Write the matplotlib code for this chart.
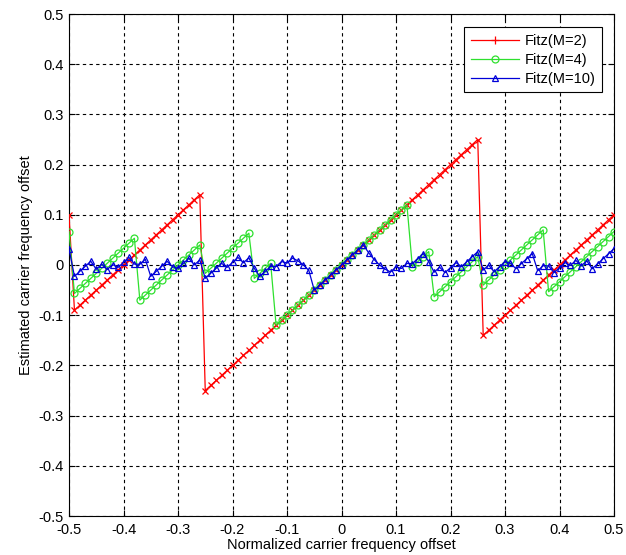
import matplotlib
matplotlib.use("Agg")
import matplotlib.pyplot as plt
from matplotlib.lines import Line2D

plt.rcParams['font.family'] = ['Liberation Sans', 'DejaVu Sans']

# Normalized carrier frequency offset (x grid)
x = [-0.50, -0.49, -0.48, -0.47, -0.46, -0.45, -0.44, -0.43, -0.42, -0.41,
     -0.40, -0.39, -0.38, -0.37, -0.36, -0.35, -0.34, -0.33, -0.32, -0.31,
     -0.30, -0.29, -0.28, -0.27, -0.26, -0.25, -0.24, -0.23, -0.22, -0.21,
     -0.20, -0.19, -0.18, -0.17, -0.16, -0.15, -0.14, -0.13, -0.12, -0.11,
     -0.10, -0.09, -0.08, -0.07, -0.06, -0.05, -0.04, -0.03, -0.02, -0.01,
     0.00, 0.01, 0.02, 0.03, 0.04, 0.05, 0.06, 0.07, 0.08, 0.09,
     0.10, 0.11, 0.12, 0.13, 0.14, 0.15, 0.16, 0.17, 0.18, 0.19,
     0.20, 0.21, 0.22, 0.23, 0.24, 0.25, 0.26, 0.27, 0.28, 0.29,
     0.30, 0.31, 0.32, 0.33, 0.34, 0.35, 0.36, 0.37, 0.38, 0.39,
     0.40, 0.41, 0.42, 0.43, 0.44, 0.45, 0.46, 0.47, 0.48, 0.49, 0.50]

# Fitz (M=2)
fitz_m2 = [0.10, -0.09, -0.08, -0.07, -0.06, -0.05, -0.04, -0.03, -0.02, -0.01,
           0.00, 0.01, 0.02, 0.03, 0.04, 0.05, 0.06, 0.07, 0.08, 0.09,
           0.10, 0.11, 0.12, 0.13, 0.14, -0.25, -0.24, -0.23, -0.22, -0.21,
           -0.20, -0.19, -0.18, -0.17, -0.16, -0.15, -0.14, -0.13, -0.12, -0.11,
           -0.10, -0.09, -0.08, -0.07, -0.06, -0.05, -0.04, -0.03, -0.02, -0.01,
           0.00, 0.01, 0.02, 0.03, 0.04, 0.05, 0.06, 0.07, 0.08, 0.09,
           0.10, 0.11, 0.12, 0.13, 0.14, 0.15, 0.16, 0.17, 0.18, 0.19,
           0.20, 0.21, 0.22, 0.23, 0.24, 0.25, -0.14, -0.13, -0.12, -0.11,
           -0.10, -0.09, -0.08, -0.07, -0.06, -0.05, -0.04, -0.03, -0.02, -0.01,
           0.00, 0.01, 0.02, 0.03, 0.04, 0.05, 0.06, 0.07, 0.08, 0.09, 0.10]

# Fitz (M=4)
fitz_m4 = [0.0667, -0.0567, -0.0467, -0.0367, -0.0267, -0.0167, -0.0067, 0.0033, 0.0133, 0.0233,
           0.0333, 0.0433, 0.0533, -0.0700, -0.0600, -0.0500, -0.0400, -0.0300, -0.0200, -0.0100,
           0.0000, 0.0100, 0.0200, 0.0300, 0.0400, -0.0167, -0.0067, 0.0033, 0.0133, 0.0233,
           0.0333, 0.0433, 0.0533, 0.0633, -0.0267, -0.0167, -0.0067, 0.0033, -0.1200, -0.1100,
           -0.1000, -0.0900, -0.0800, -0.0700, -0.0600, -0.0500, -0.0400, -0.0300, -0.0200, -0.0100,
           0.0000, 0.0100, 0.0200, 0.0300, 0.0400, 0.0500, 0.0600, 0.0700, 0.0800, 0.0900,
           0.1000, 0.1100, 0.1200, -0.0033, 0.0067, 0.0167, 0.0267, -0.0633, -0.0533, -0.0433,
           -0.0333, -0.0233, -0.0133, -0.0033, 0.0067, 0.0167, -0.0400, -0.0300, -0.0200, -0.0100,
           0.0000, 0.0100, 0.0200, 0.0300, 0.0400, 0.0500, 0.0600, 0.0700, -0.0533, -0.0433,
           -0.0333, -0.0233, -0.0133, -0.0033, 0.0067, 0.0167, 0.0267, 0.0367, 0.0467, 0.0567, 0.0667]

# Fitz (M=10)
fitz_m10 = [0.0325, -0.0225, -0.0125, -0.0025, 0.0075, -0.0084, 0.0016, -0.0092, 0.0008, -0.0048,
            0.0052, 0.0152, 0.0018, 0.0014, 0.0114, -0.0227, -0.0127, -0.0027, 0.0073, -0.0035,
            -0.0065, 0.0035, 0.0135, 0.0001, 0.0101, -0.0266, -0.0166, -0.0066, 0.0034, -0.0048,
            0.0052, 0.0152, 0.0044, 0.0144, -0.0068, -0.0227, -0.0127, -0.0027, -0.0031, 0.0069,
            0.0039, 0.0139, 0.0083, 0.0001, -0.0107, -0.0500, -0.0400, -0.0300, -0.0200, -0.0100,
            0.0000, 0.0100, 0.0200, 0.0300, 0.0400, 0.0240, 0.0107, -0.0001, -0.0083, -0.0139,
            -0.0039, -0.0069, 0.0031, 0.0027, 0.0127, 0.0227, 0.0068, -0.0144, -0.0044, -0.0152,
            -0.0052, 0.0048, -0.0034, 0.0066, 0.0166, 0.0266, -0.0101, -0.0001, -0.0135, -0.0035,
            0.0065, 0.0035, -0.0073, 0.0027, 0.0127, 0.0227, -0.0114, -0.0014, -0.0018, -0.0152,
            -0.0052, 0.0048, -0.0008, 0.0092, -0.0016, 0.0084, -0.0075, 0.0025, 0.0125, 0.0225, 0.0325]

series_labels = ['Fitz(M=2)', 'Fitz(M=4)', 'Fitz(M=10)']

ticks = [-0.5, -0.4, -0.3, -0.2, -0.1, 0, 0.1, 0.2, 0.3, 0.4, 0.5]
tick_labels = ['-0.5', '-0.4', '-0.3', '-0.2', '-0.1', '0', '0.1', '0.2', '0.3', '0.4', '0.5']

RED, GREEN, BLUE = '#ff0000', '#2ee02e', '#0000d8'

fig = plt.figure(figsize=(6.26, 5.55), dpi=100)
ax = fig.add_axes([69/626, 1 - 516/555, 545/626, 502/555])

ax.plot(x, fitz_m2, color=RED, lw=0.9, marker='x', ms=4.5, mew=0.9, zorder=3)
ax.plot(x, fitz_m4, color=GREEN, lw=0.9, marker='o', ms=5, mew=0.9,
        mfc='none', zorder=3)
ax.plot(x, fitz_m10, color=BLUE, lw=0.9, marker='^', ms=5, mew=0.9,
        mfc='none', zorder=4)

ax.set_xlim(-0.5, 0.5)
ax.set_ylim(-0.5, 0.5)
ax.set_xticks(ticks)
ax.set_xticklabels(tick_labels)
ax.set_yticks(ticks)
ax.set_yticklabels(tick_labels)
ax.tick_params(direction='in', top=True, right=True, labelsize=10.5, length=4,
               width=0.8)
ax.tick_params(axis='x', pad=5)
ax.tick_params(axis='y', pad=4)
ax.grid(True, color='black', linestyle=(0, (3, 3)), linewidth=0.8)
for s in ax.spines.values():
    s.set_linewidth(0.8)

ax.set_xlabel('Normalized carrier frequency offset', fontsize=10.5, labelpad=1)
ax.set_ylabel('Estimated carrier frequency offset', fontsize=10.5, labelpad=4)

handles = [
    Line2D([], [], color=RED, lw=0.9, marker='+', ms=6, mew=0.9),
    Line2D([], [], color=GREEN, lw=0.9, marker='o', ms=5, mew=0.9, mfc='none'),
    Line2D([], [], color=BLUE, lw=0.9, marker='^', ms=5, mew=0.9, mfc='none'),
]
leg = ax.legend(handles, series_labels, loc='upper right',
                bbox_to_anchor=(0.978, 0.974),
                borderaxespad=0, fancybox=False, framealpha=1,
                edgecolor='black', fontsize=10.5, handlelength=3.3,
                handletextpad=0.4, borderpad=0.45, labelspacing=0.35)
leg.get_frame().set_linewidth(0.8)

fig.savefig('out.png', dpi=100)
